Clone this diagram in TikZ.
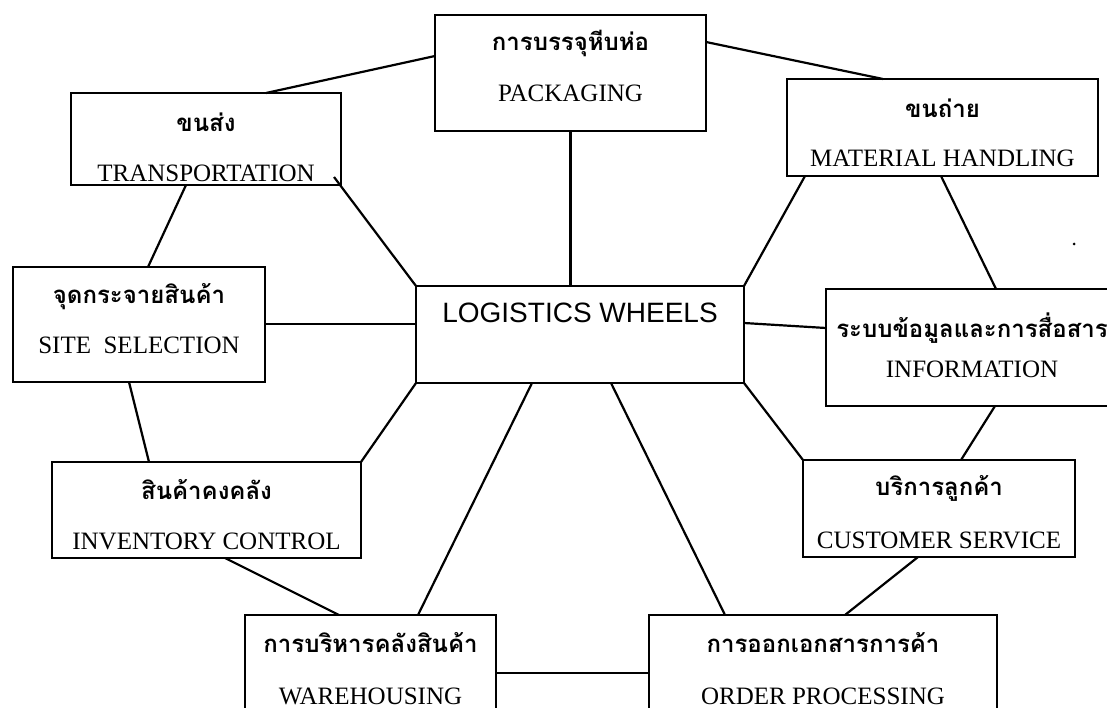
\documentclass[tikz,border=0pt]{standalone}
\usepackage{fontspec}
\setmainfont{Liberation Serif}
\newfontfamily\thai[Script=Thai]{Loma}
\newfontfamily\arial{Liberation Sans}
\begin{document}
\begin{tikzpicture}[x=1pt,y=-1pt,
  box/.style={draw=black, line width=2.2pt, rectangle, inner sep=0pt, outer sep=0pt, anchor=north west},
  th/.style={font=\thai\bfseries\fontsize{24}{27}\selectfont, inner sep=0pt},
  en/.style={font=\fontsize{25}{28}\selectfont, inner sep=0pt, anchor=base},
  conn/.style={draw=black, line width=2.2pt}]
\clip (0,0) rectangle (1107,708);
\fill[white] (0,0) rectangle (1107,708);
% boxes
\node[box, minimum width=271pt, minimum height=116pt] (pk) at (435,15) {};
\node[box, minimum width=270pt, minimum height=92pt] (tr) at (71,93) {};
\node[box, minimum width=311pt, minimum height=97pt] (mh) at (787,79) {};
\node[box, minimum width=252pt, minimum height=115pt] (si) at (13,267) {};
\node[box, minimum width=328pt, minimum height=97pt] (lg) at (416,286) {};
\node[box, minimum width=292pt, minimum height=117pt] (in) at (826,289) {};
\node[box, minimum width=309pt, minimum height=96pt] (iv) at (52,462) {};
\node[box, minimum width=272pt, minimum height=97pt] (cs) at (803,460) {};
\node[box, minimum width=251pt, minimum height=120pt] (wh) at (245,615) {};
\node[box, minimum width=348pt, minimum height=120pt] (od) at (649,615) {};
% labels
\node[th] (pkT) at (570.5,43) {การบรรจุหีบห่อ};
\node[en] (pkE) at (570.5,102) {PACKAGING};
\node[th] (trT) at (206,122) {ขนส่ง};
\node[en] (trE) at (206,182) {TRANSPORTATION};
\node[th] (mhT) at (942.5,108) {ขนถ่าย};
\node[en] (mhE) at (942.5,167) {MATERIAL HANDLING};
\node[th] (siT) at (139,297) {จุดกระจายสินค้า};
\node[en] (siE) at (139,353) {SITE\ \ SELECTION};
\node[font=\arial\fontsize{28}{32}\selectfont, inner sep=0pt] (lgT) at (580,313) {LOGISTICS WHEELS};
\node[th] (inT) at (972,328) {ระบบข้อมูลและการสื่อสาร};
\node[en] (inE) at (972,377) {INFORMATION};
\node[th] (ivT) at (206.5,490) {สินค้าคงคลัง};
\node[en] (ivE) at (206.5,549) {INVENTORY CONTROL};
\node[th] (csT) at (939,488) {บริการลูกค้า};
\node[en] (csE) at (939,548) {CUSTOMER SERVICE};
\node[th] (whT) at (370.5,643) {การบริหารคลังสินค้า};
\node[en] (whE) at (370.5,704) {WAREHOUSING};
\node[th] (odT) at (823,643) {การออกเอกสารการค้า};
\node[en] (odE) at (823,704) {ORDER PROCESSING};
% connectors
\draw[conn] ([xshift=195pt]tr.north west) -- ([yshift=-41pt]pk.north west);
\draw[conn] ([yshift=-27pt]pk.north east) -- ([xshift=96pt]mh.north west);
\draw[conn] ([xshift=263pt,yshift=-84pt]tr.north west) -- (lg.north west);
\draw[conn] ([xshift=115pt]tr.south west) -- ([xshift=135pt]si.north west);
\draw[conn] ([yshift=-57pt]si.north east) -- ([yshift=-38pt]lg.north west);
\draw[conn] (pk.south) -- (pk.south |- lg.north);
\draw[conn] ([xshift=18pt]mh.south west) -- (lg.north east);
\draw[conn] ([xshift=154pt]mh.south west) -- ([xshift=170pt]in.north west);
\draw[conn] ([yshift=-37pt]lg.north east) -- ([yshift=-39pt]in.north west);
\draw[conn] ([xshift=116pt]si.south west) -- ([xshift=97pt]iv.north west);
\draw[conn] (lg.south west) -- (iv.north east);
\draw[conn] ([xshift=116pt]lg.south west) -- ([xshift=173pt]wh.north west);
\draw[conn] ([xshift=173pt]iv.south west) -- ([xshift=94pt]wh.north west);
\draw[conn] ([xshift=195pt]lg.south west) -- ([xshift=76pt]od.north west);
\draw[conn] (lg.south east) -- (cs.north west);
\draw[conn] ([xshift=169pt]in.south west) -- ([xshift=158pt]cs.north west);
\draw[conn] ([xshift=115pt]cs.south west) -- ([xshift=196pt]od.north west);
\draw[conn] ([yshift=-58pt]wh.north east) -- ([yshift=-58pt]od.north west);
% speck
\fill[black] (1074,244) circle (1.5pt);
\end{tikzpicture}
\end{document}
